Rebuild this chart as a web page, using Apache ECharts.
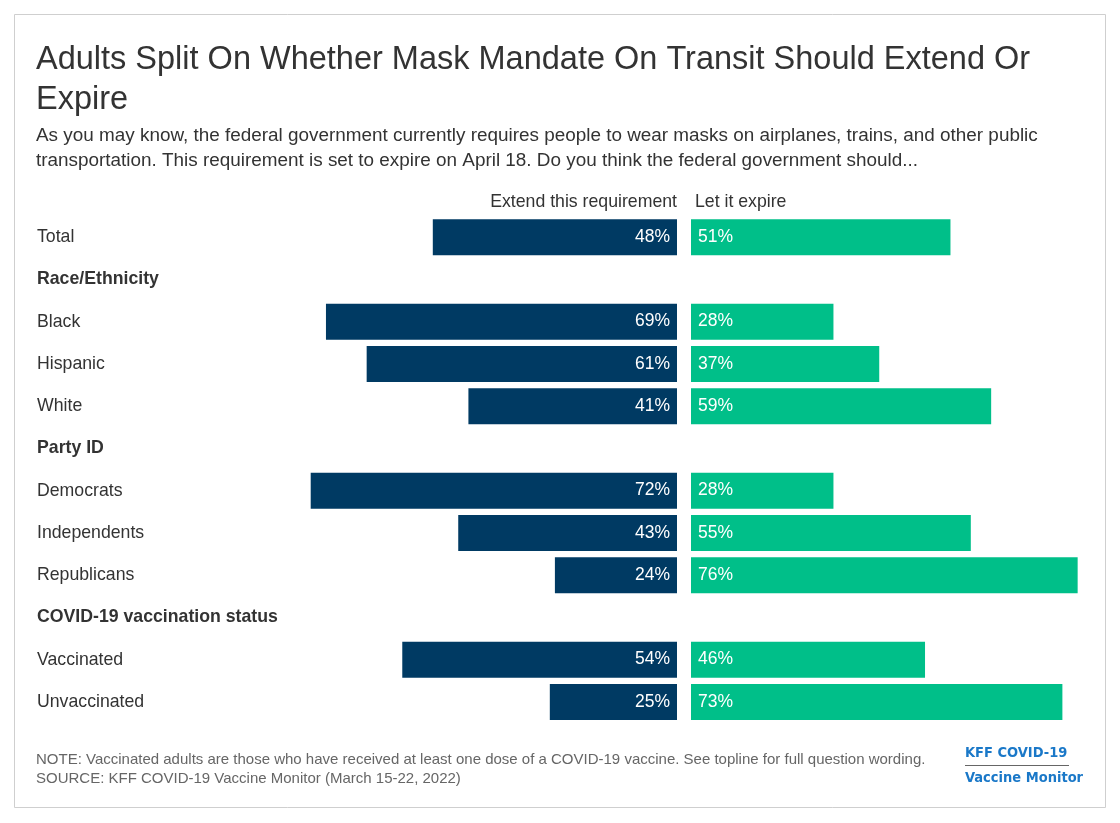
<!DOCTYPE html>
<html>
<head>
<meta charset="utf-8">
<script src="https://cdn.jsdelivr.net/npm/echarts@6/dist/echarts.min.js"></script>
<style>
  html, body { margin: 0; padding: 0; background: #fff; }
  #chart { width: 1120px; height: 823px; }
</style>
</head>
<body>
<div id="chart"></div>
<script>
// rows, top to bottom; headers have no values
var categories = ['Total', 'Race/Ethnicity', 'Black', 'Hispanic', 'White', 'Party ID',
  'Democrats', 'Independents', 'Republicans', 'COVID-19 vaccination status',
  'Vaccinated', 'Unvaccinated'];
var headers = ['Race/Ethnicity', 'Party ID', 'COVID-19 vaccination status'];
var extendVals = [48, null, 69, 61, 41, null, 72, 43, 24, null, 54, 25];
var expireVals = [51, null, 28, 37, 59, null, 28, 55, 76, null, 46, 73];

var FONT = '"Liberation Sans", Arial, sans-serif';
var NAVY = '#003a63';
var GREEN = '#00bf89';

var chart = echarts.init(document.getElementById('chart'));

var gridTop = 216, gridBottom = 823 - 723;

chart.setOption({
  backgroundColor: '#fff',
  animation: false,
  textStyle: { fontFamily: FONT },
  title: [
    {
      text: 'Adults Split On Whether Mask Mandate On Transit Should Extend Or\nExpire',
      left: 36, top: 40, padding: 0,
      textStyle: { fontFamily: FONT, fontSize: 32.5, fontWeight: 'normal', color: '#333', lineHeight: 40 }
    },
    {
      text: 'As you may know, the federal government currently requires people to wear masks on airplanes, trains, and other public\ntransportation. This requirement is set to expire on April 18. Do you think the federal government should...',
      left: 36, top: 123, padding: 0,
      textStyle: { fontFamily: FONT, fontSize: 18.9, fontWeight: 'normal', color: '#333', lineHeight: 25 }
    },
    {
      text: 'Extend this requirement',
      right: 1120 - 677, top: 193, padding: 0,
      textStyle: { fontFamily: FONT, fontSize: 17.7, fontWeight: 'normal', color: '#333' }
    },
    {
      text: 'Let it expire',
      left: 695, top: 193, padding: 0,
      textStyle: { fontFamily: FONT, fontSize: 17.7, fontWeight: 'normal', color: '#333' }
    },
    {
      text: 'NOTE: Vaccinated adults are those who have received at least one dose of a COVID-19 vaccine. See topline for full question wording.\nSOURCE: KFF COVID-19 Vaccine Monitor (March 15-22, 2022)',
      left: 36, top: 750, padding: 0,
      textStyle: { fontFamily: FONT, fontSize: 15, fontWeight: 'normal', color: '#666', lineHeight: 19 }
    },
    {
      text: 'KFF COVID-19\nVaccine Monitor',
      left: 965, top: 741, padding: 0,
      textStyle: { fontFamily: '"DejaVu Sans Condensed", "DejaVu Sans", sans-serif', fontSize: 14.5, fontWeight: 'bold', color: '#1a78c8', lineHeight: 25 }
    }
  ],
  graphic: [
    {
      type: 'rect',
      shape: { x: 14.5, y: 14.5, width: 1091, height: 793 },
      style: { fill: 'none', stroke: '#cfcfcf', lineWidth: 1 },
      silent: true
    },
    {
      type: 'line',
      shape: { x1: 965, y1: 765.5, x2: 1069, y2: 765.5 },
      style: { stroke: '#666', lineWidth: 1 },
      silent: true
    }
  ],
  grid: [
    { left: 270, width: 407, top: gridTop, bottom: gridBottom },
    { left: 691, width: 407, top: gridTop, bottom: gridBottom }
  ],
  xAxis: [
    { gridIndex: 0, type: 'value', min: 0, max: 80, inverse: true, show: false },
    { gridIndex: 1, type: 'value', min: 0, max: 80, show: false }
  ],
  yAxis: [
    {
      gridIndex: 0, type: 'category', data: categories, inverse: true,
      position: 'left',
      axisLine: { show: false, onZero: false }, axisTick: { show: false }, splitLine: { show: false },
      axisLabel: {
        margin: 233, align: 'left', fontFamily: FONT, fontSize: 17.7, color: '#333',
        formatter: function (v) {
          return headers.indexOf(v) >= 0 ? '{b|' + v + '}' : v;
        },
        rich: { b: { fontFamily: FONT, fontSize: 17.7, fontWeight: 'bold', color: '#333' } }
      }
    },
    {
      gridIndex: 1, type: 'category', data: categories, inverse: true,
      show: false
    }
  ],
  series: [
    {
      name: 'Extend this requirement', type: 'bar',
      xAxisIndex: 0, yAxisIndex: 0,
      data: extendVals, barWidth: 36,
      itemStyle: { color: NAVY },
      label: {
        show: true, position: 'insideRight', distance: 7,
        formatter: '{c}%', color: '#fff', fontFamily: FONT, fontSize: 17.5
      }
    },
    {
      name: 'Let it expire', type: 'bar',
      xAxisIndex: 1, yAxisIndex: 1,
      data: expireVals, barWidth: 36,
      itemStyle: { color: GREEN },
      label: {
        show: true, position: 'insideLeft', distance: 7,
        formatter: '{c}%', color: '#fff', fontFamily: FONT, fontSize: 17.5
      }
    }
  ]
});
</script>
</body>
</html>
